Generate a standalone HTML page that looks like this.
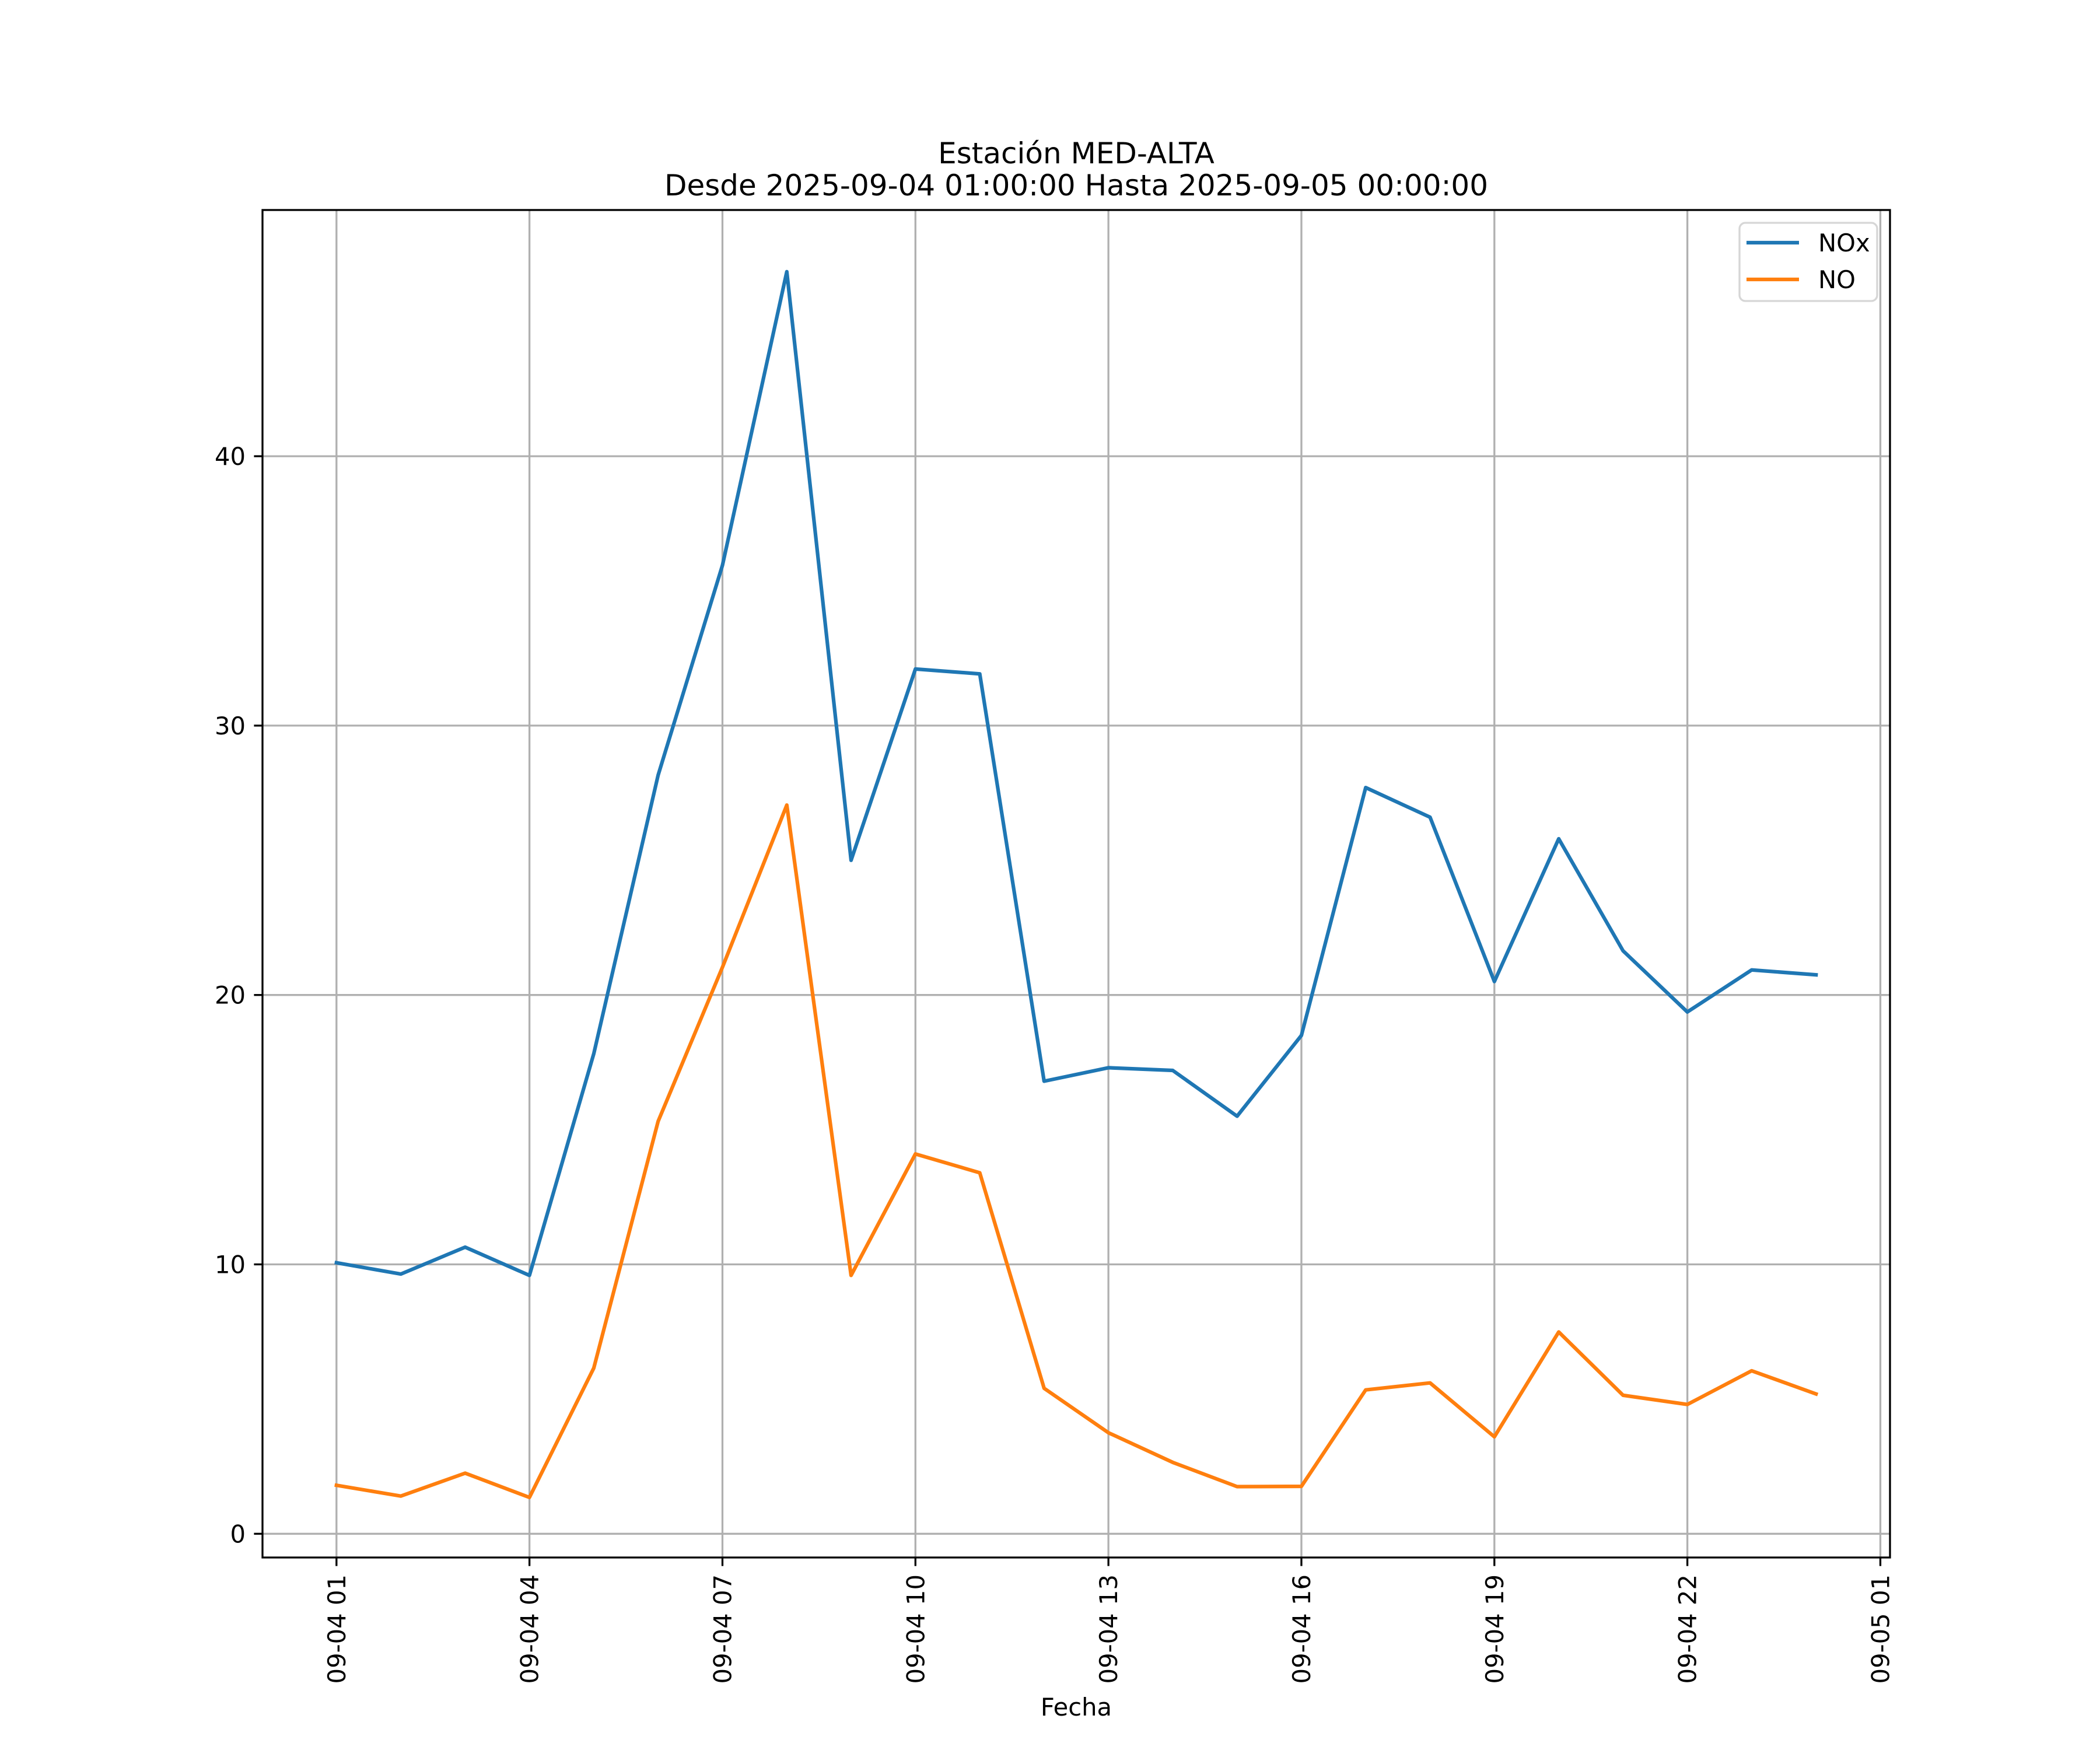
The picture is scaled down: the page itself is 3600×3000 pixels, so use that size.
<!DOCTYPE html>
<html><head><meta charset="utf-8"><style>
html,body{margin:0;padding:0;background:#fff;}
svg{display:block;font-family:"DejaVu Sans","Liberation Sans",sans-serif;}
</style></head><body>
<svg id="chart" width="3600" height="3000" viewBox="0 0 3600 3000">
<rect x="0" y="0" width="3600" height="3000" fill="#fff"/>
<text x="1845" y="280" font-size="50" text-anchor="middle">Estación MED-ALTA</text>
<text x="1845" y="335" font-size="50" text-anchor="middle">Desde 2025-09-04 01:00:00 Hasta 2025-09-05 00:00:00</text>
<g id="grid"></g>
<g id="series"></g>
<rect x="450" y="360" width="2790" height="2310" fill="none" stroke="#000" stroke-width="3.3"/>
<g id="ticks"></g>
<text x="1845" y="2941" font-size="41.7" text-anchor="middle">Fecha</text>
<g>
<rect x="2982" y="382" width="236" height="134" rx="10" fill="#fff" fill-opacity="0.8" stroke="#d6d6d6" stroke-width="3.3"/>
<line x1="2994" y1="416" x2="3084" y2="416" stroke="#1f77b4" stroke-width="6.25"/>
<text x="3117" y="431" font-size="41.7">NOx</text>
<line x1="2994" y1="479" x2="3084" y2="479" stroke="#ff7f0e" stroke-width="6.25"/>
<text x="3117" y="494" font-size="41.7">NO</text>
</g>
</svg>
<script>
const hours = [1,2,3,4,5,6,7,8,9,10,11,12,13,14,15,16,17,18,19,20,21,22,23,24];
const noxValues = [10.06,9.64,10.64,9.59,17.82,28.16,35.95,46.85,25.0,32.1,31.92,16.8,17.3,17.2,15.5,18.5,27.7,26.6,20.5,25.8,21.64,19.37,20.93,20.75];
const noValues = [1.8,1.4,2.25,1.35,6.15,15.31,21.03,27.05,9.59,14.1,13.4,5.4,3.75,2.65,1.75,1.76,5.34,5.6,3.6,7.49,5.14,4.8,6.05,5.19];
const xTickHours = [1,4,7,10,13,16,19,22,25];
const xTickLabels = ["09-04 01","09-04 04","09-04 07","09-04 10","09-04 13","09-04 16","09-04 19","09-04 22","09-05 01"];
const yTicks = [0,10,20,30,40];

const NS = "http://www.w3.org/2000/svg";
const L=450,R=3240,T=360,B=2670;
const xMin = 1 - 0.05*23, xMax = 24 + 0.05*23;
const yMin = -0.881, yMax = 49.14;
function xs(h){return L + (h - xMin)/(xMax - xMin)*(R-L);}
function ys(v){return B - (v - yMin)/(yMax - yMin)*(B-T);}
function mk(tag, attrs, parent){const e=document.createElementNS(NS,tag);for(const k in attrs)e.setAttribute(k,attrs[k]);parent.appendChild(e);return e;}
const grid=document.getElementById('grid'), ticks=document.getElementById('ticks'), series=document.getElementById('series');

xTickHours.forEach((h,i)=>{
  const x=xs(h);
  const g=mk('line',{x1:x,y1:T,x2:x,y2:B,stroke:'#b0b0b0','stroke-width':3.3},grid);
  
  
  const t=mk('line',{x1:x,y1:B,x2:x,y2:B+14.6,stroke:'#000','stroke-width':3.3},ticks);
  
  
  const lb=mk('text',{x:0,y:0,'font-size':41.7,'text-anchor':'end',transform:`translate(${x+15},${B+29}) rotate(-90)`},ticks);
  lb.textContent=xTickLabels[i];
  
  
});
yTicks.forEach(v=>{
  const y=ys(v);
  const g=mk('line',{x1:L,y1:y,x2:R,y2:y,stroke:'#b0b0b0','stroke-width':3.3},grid);
  
  
  const t=mk('line',{x1:L-14.6,y1:y,x2:L,y2:y,stroke:'#000','stroke-width':3.3},ticks);
  
  
  const lb=mk('text',{x:L-29,y:y+15,'font-size':41.7,'text-anchor':'end'},ticks);
  lb.textContent=String(v);
  
  
});
function drawLine(vals,color,name){
  const pts=hours.map((h,i)=>xs(h).toFixed(1)+','+ys(vals[i]).toFixed(1)).join(' ');
  const p=mk('polyline',{points:pts,fill:'none',stroke:color,'stroke-width':6.25,'stroke-linejoin':'round','stroke-linecap':'square'},series);
  
  
}
drawLine(noxValues,'#1f77b4','nox-line');
drawLine(noValues,'#ff7f0e','no-line');
</script>
</body></html>
